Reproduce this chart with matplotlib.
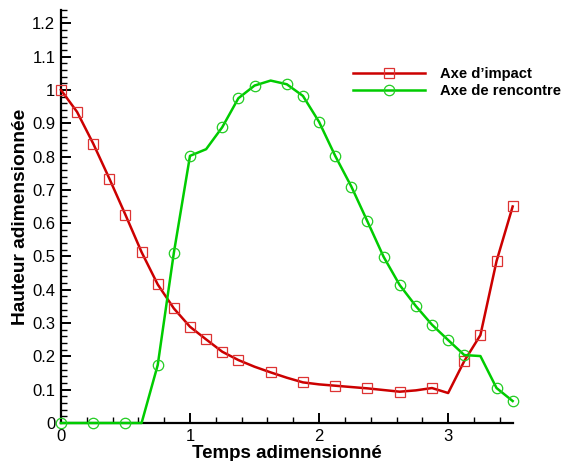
import numpy as np
import matplotlib
matplotlib.use("Agg")
import matplotlib.pyplot as plt
from matplotlib.ticker import MultipleLocator, FormatStrFormatter

plt.rcParams['font.family'] = ['Liberation Sans', 'DejaVu Sans']

# temps adimensionné (pas de 0.125)
temps = [0.0, 0.125, 0.25, 0.375, 0.5, 0.625, 0.75, 0.875, 1.0, 1.125,
         1.25, 1.375, 1.5, 1.625, 1.75, 1.875, 2.0, 2.125, 2.25, 2.375,
         2.5, 2.625, 2.75, 2.875, 3.0, 3.125, 3.25, 3.375, 3.5]

impact = [1.0, 0.934, 0.839, 0.734, 0.625, 0.513, 0.416, 0.344, 0.289, 0.251,
          0.214, 0.189, 0.169, 0.152, 0.136, 0.122, 0.116, 0.112, 0.108, 0.104,
          0.099, 0.094, 0.098, 0.105, 0.090, 0.186, 0.264, 0.486, 0.650]
rencontre = [0.0, 0.0, 0.0, 0.0, 0.0, 0.0, 0.174, 0.511, 0.802, 0.822,
             0.888, 0.975, 1.013, 1.028, 1.017, 0.982, 0.904, 0.802, 0.710, 0.605,
             0.499, 0.414, 0.351, 0.295, 0.249, 0.204, 0.201, 0.105, 0.066]

# indices des points portant un symbole
marques_impact = [0, 1, 2, 3, 4, 5, 6, 7, 8, 9, 10, 11, 13, 15, 17, 19,
                  21, 23, 25, 26, 27, 28]
marques_rencontre = [0, 2, 4, 6, 7, 8, 10, 11, 12, 14, 15, 16, 17, 18, 19,
                     20, 21, 22, 23, 24, 25, 27, 28]

rouge = '#cc0000'
vert = '#00cc00'

fig = plt.figure(figsize=(5.64, 4.61), dpi=100)
ax = fig.add_axes([0.108, 0.0824, 0.801, 0.896])

ax.plot(temps, impact, color=rouge, lw=1.8, marker='s', ms=7.5,
        mfc='none', mec='#dd3333', mew=0.9, markevery=marques_impact,
        label='Axe d’impact', clip_on=False, zorder=3)
ax.plot(temps, rencontre, color=vert, lw=1.8, marker='o', ms=7.5,
        mfc='none', mec='#22cc22', mew=0.9, markevery=marques_rencontre,
        label='Axe de rencontre', clip_on=False, zorder=3)

ax.set_xlim(0, 3.5)
ax.set_ylim(0, 1.24)

for s in ['top', 'right']:
    ax.spines[s].set_visible(False)
for s in ['left', 'bottom']:
    ax.spines[s].set_linewidth(1.6)

ax.xaxis.set_major_locator(MultipleLocator(1))
ax.xaxis.set_minor_locator(MultipleLocator(0.2))
ax.yaxis.set_major_locator(MultipleLocator(0.1))
ax.yaxis.set_minor_locator(MultipleLocator(0.02))
ax.yaxis.set_major_formatter(FormatStrFormatter('%g'))
ax.xaxis.set_major_formatter(FormatStrFormatter('%g'))
ax.tick_params(which='major', direction='in', length=7.5, width=1.4,
               labelsize=12, pad=4)
ax.tick_params(which='minor', direction='in', length=4.3, width=1.0)

ax.set_xlabel('Temps adimensionné', fontsize=13.5, fontweight='bold', labelpad=1)
ax.set_ylabel('Hauteur adimensionnée', fontsize=13.8, fontweight='bold', labelpad=2)

ax.legend(loc='upper left', bbox_to_anchor=(0.615, 0.868),
          bbox_transform=fig.transFigure, frameon=False,
          prop={'weight': 'bold', 'size': 10.6}, handlelength=4.9,
          handletextpad=1.0, labelspacing=0.25, borderaxespad=0)

fig.savefig('out.png', dpi=100)
